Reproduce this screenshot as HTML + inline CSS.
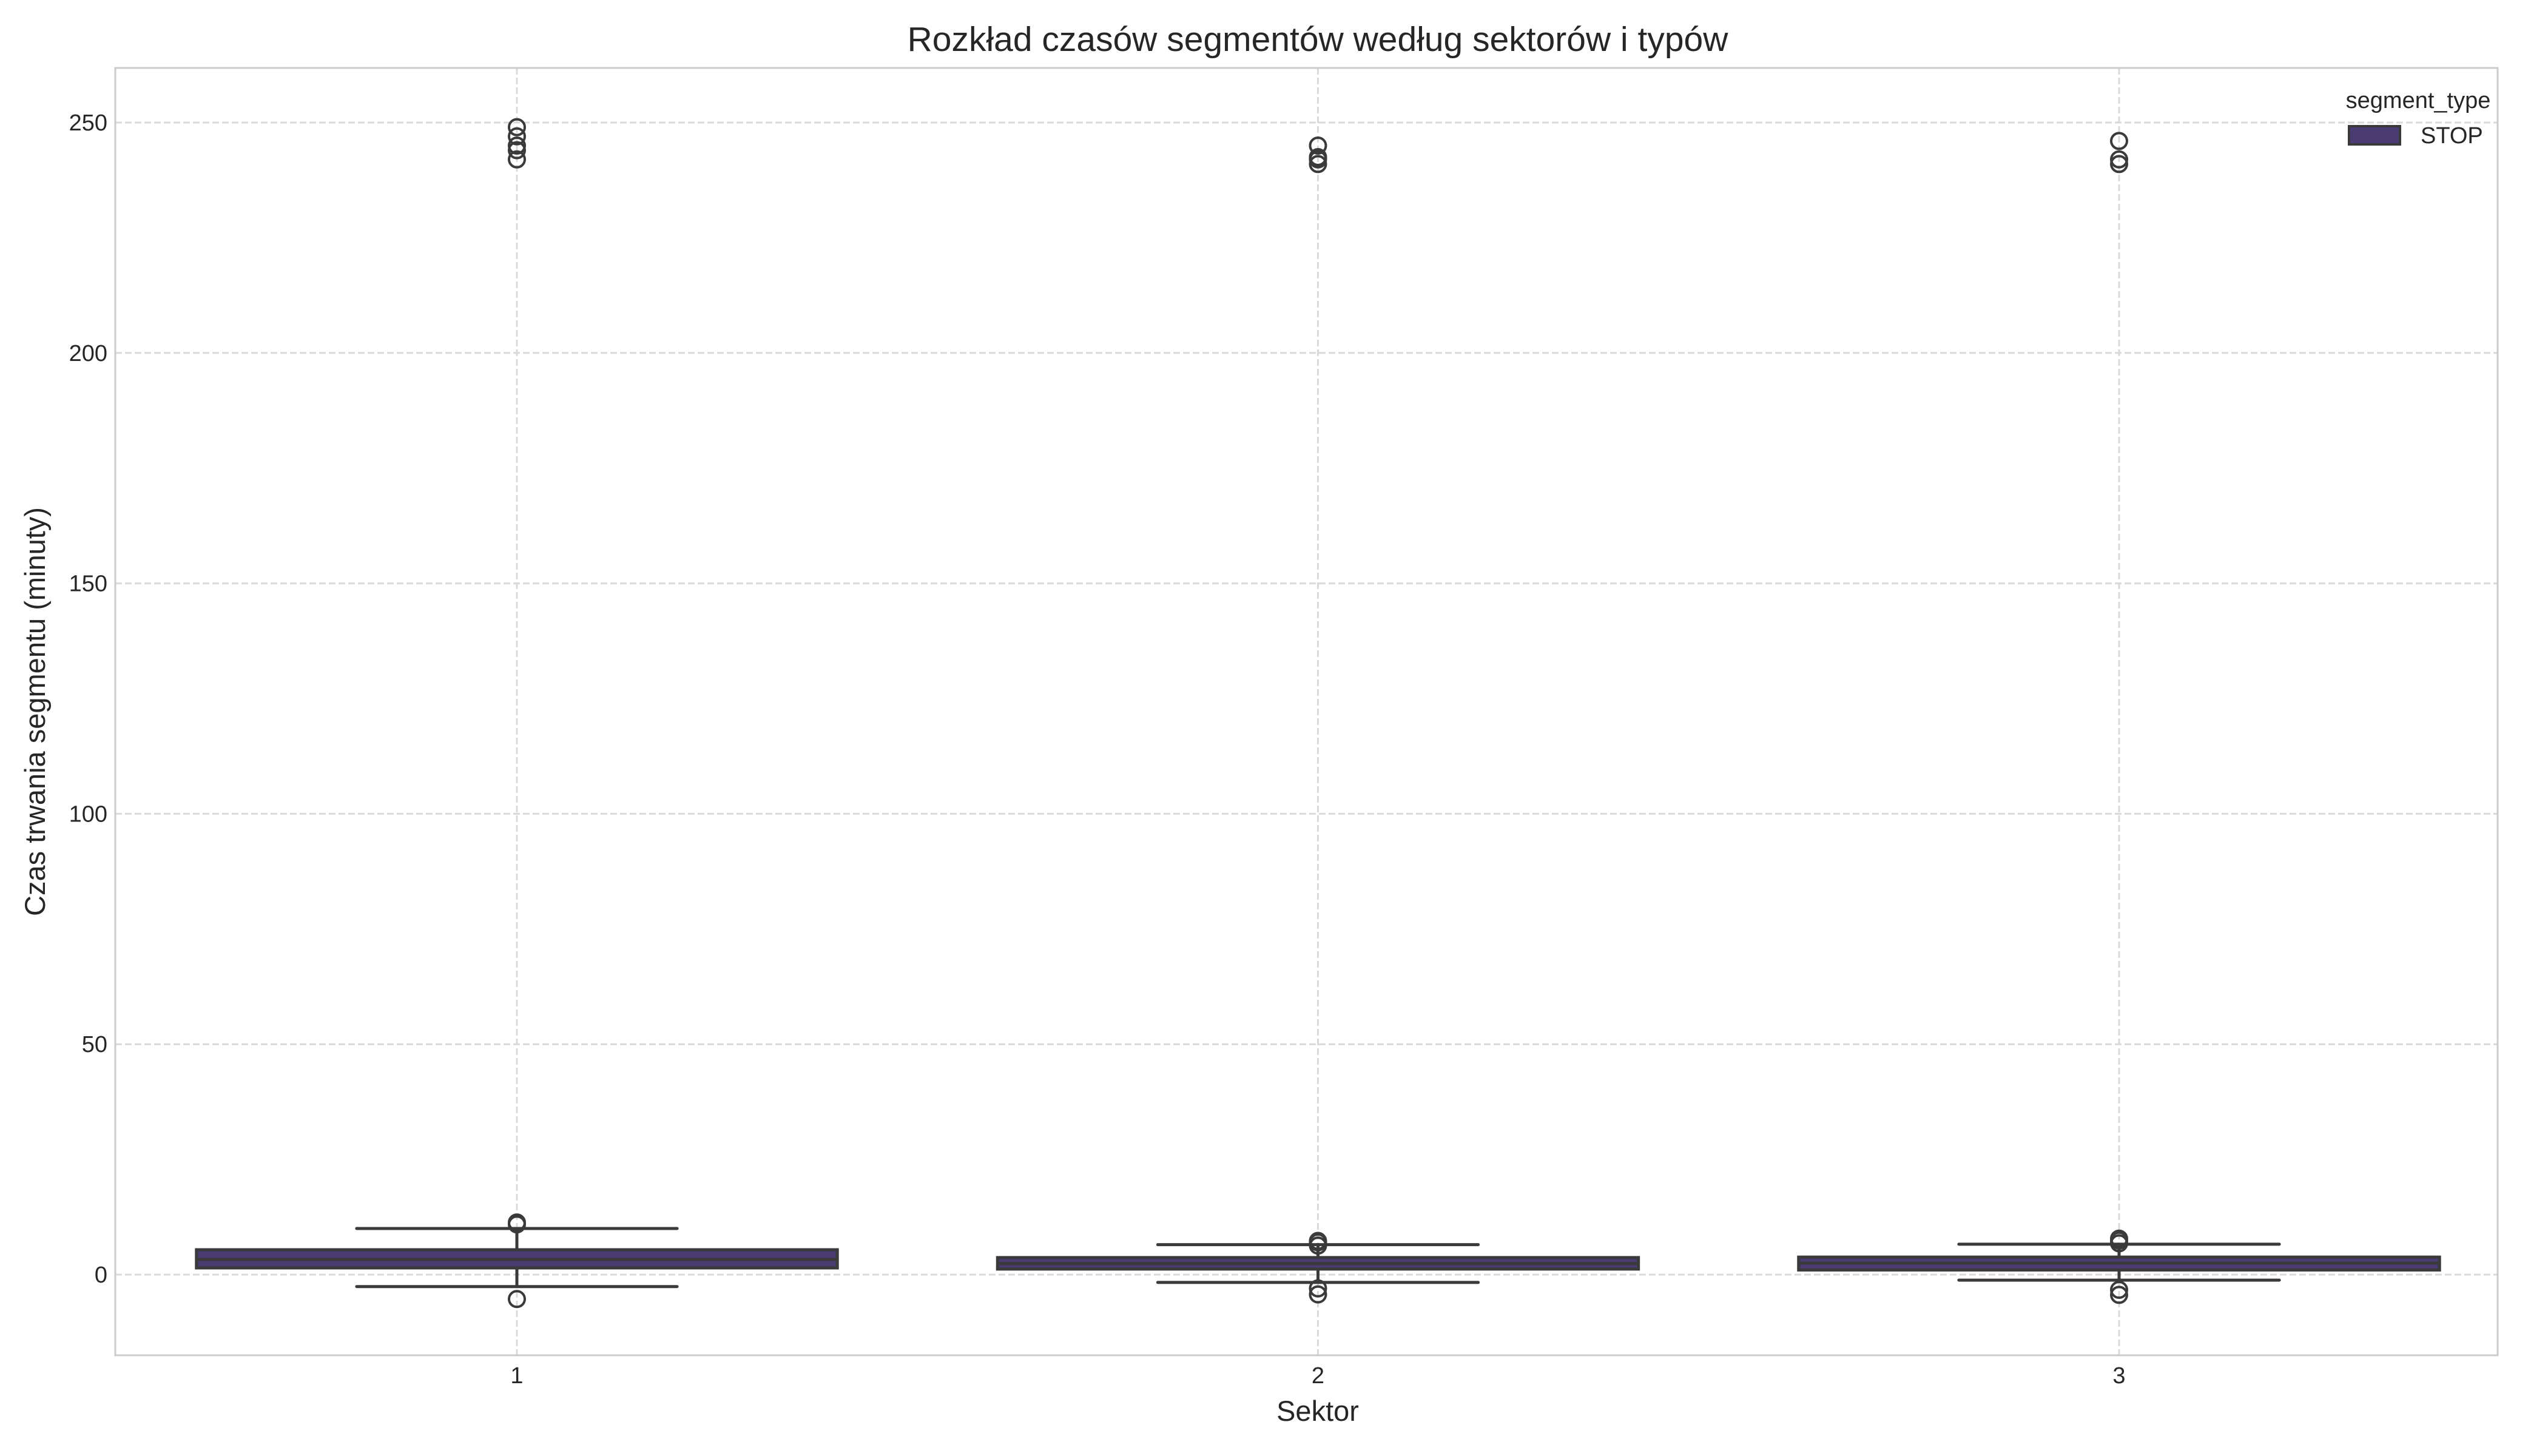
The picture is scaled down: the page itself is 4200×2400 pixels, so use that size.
<!DOCTYPE html>
<html><head><meta charset="utf-8"><style>
html,body{margin:0;padding:0;background:#fff}
svg{display:block;font-family:"Liberation Sans",Arial,sans-serif}
</style></head><body>
<svg id="chart" width="4200" height="2400" viewBox="0 0 4200 2400" xmlns="http://www.w3.org/2000/svg">
<rect width="4200" height="2400" fill="#fff"/>
<g id="grid"></g>
<g id="marks"></g>
<rect x="190" y="112" width="3927" height="2122" fill="none" stroke="#cccccc" stroke-width="3"/>
<g id="ticks"></g>
<text x="2172" y="84" font-size="57" text-anchor="middle" fill="#262626">Rozkład czasów segmentów według sektorów i typów</text>
<text x="2172" y="2342" font-size="47" text-anchor="middle" fill="#262626">Sektor</text>
<text x="0" y="0" font-size="47" text-anchor="middle" fill="#262626" transform="translate(74,1173) rotate(-90)">Czas trwania segmentu (minuty)</text>
<g>
<text x="3986" y="178" font-size="38" text-anchor="middle" fill="#262626">segment_type</text>
<rect x="3872" y="208" width="84" height="30" fill="#4a3b72" stroke="#3a3a3a" stroke-width="4"/>
<text x="3990" y="236" font-size="38" fill="#262626">STOP</text>
</g>
</svg>
<script>
const categories = ["1","2","3"];
const q1 = [1.45, 1.2, 1.0];
const medians = [3.3, 2.4, 2.5];
const q3 = [5.4, 3.7, 3.8];
const whiskerLow = [-2.6, -1.7, -1.2];
const whiskerHigh = [10.0, 6.5, 6.6];
const outliers = [
  [10.9, 11.3, 242, 244, 245, 247, 249, -5.3],
  [6.3, 7.0, 7.3, 241, 242, 242.5, 245, -3.0, -4.3],
  [6.8, 7.4, 7.8, 241, 242, 246, -3.3, -4.4]
];
const yTicks = [0, 50, 100, 150, 200, 250];

const NS = "http://www.w3.org/2000/svg";
const L = 190, R = 4117, T = 112, B = 2234;
const y = v => 2101 - v * 7.596;
const band = 1320.5;
const x = i => 852 + band * i;
function mk(tag, attrs, parent) {
  const e = document.createElementNS(NS, tag);
  for (const k in attrs) e.setAttribute(k, attrs[k]);
  parent.appendChild(e);
  return e;
}
const grid = document.getElementById("grid");
const ticks = document.getElementById("ticks");
const marks = document.getElementById("marks");
yTicks.forEach(v => {
  const l = mk("line", {x1: L, x2: R, y1: y(v), y2: y(v), stroke: "#d9d9d9", "stroke-width": 3, "stroke-dasharray": "11 5"}, grid);
  
  
  const t = mk("text", {x: 177, y: y(v) + 13, "font-size": 38, "text-anchor": "end", fill: "#262626"}, ticks);
  t.textContent = v;
  
  
});
categories.forEach((c, i) => {
  const l = mk("line", {x1: x(i), x2: x(i), y1: T, y2: B, stroke: "#d9d9d9", "stroke-width": 3, "stroke-dasharray": "11 5"}, grid);
  
  
  const t = mk("text", {x: x(i), y: 2280, "font-size": 38, "text-anchor": "middle", fill: "#262626"}, ticks);
  t.textContent = c;
  
  

  const g = mk("g", {}, marks);
  
  
  const bw = band * 0.8, cw = bw / 2, cx = x(i);
  const st = {stroke: "#3a3a3a", "stroke-width": 5, "stroke-linecap": "round"};
  mk("line", Object.assign({x1: cx, x2: cx, y1: y(q3[i]), y2: y(whiskerHigh[i])}, st), g);
  mk("line", Object.assign({x1: cx, x2: cx, y1: y(q1[i]), y2: y(whiskerLow[i])}, st), g);
  mk("line", Object.assign({x1: cx - cw/2, x2: cx + cw/2, y1: y(whiskerHigh[i]), y2: y(whiskerHigh[i])}, st), g);
  mk("line", Object.assign({x1: cx - cw/2, x2: cx + cw/2, y1: y(whiskerLow[i]), y2: y(whiskerLow[i])}, st), g);
  mk("rect", {x: cx - bw/2, y: y(q3[i]), width: bw, height: y(q1[i]) - y(q3[i]), fill: "#4a3b72", stroke: "#3a3a3a", "stroke-width": 5}, g);
  mk("line", {x1: cx - bw/2, x2: cx + bw/2, y1: y(medians[i]), y2: y(medians[i]), stroke: "#3a3a3a", "stroke-width": 5}, g);
  outliers[i].forEach(v => {
    const o = mk("circle", {cx: cx, cy: y(v), r: 13, fill: "none", stroke: "#3a3a3a", "stroke-width": 4}, g);
    
    
  });
});
</script>
</body></html>
